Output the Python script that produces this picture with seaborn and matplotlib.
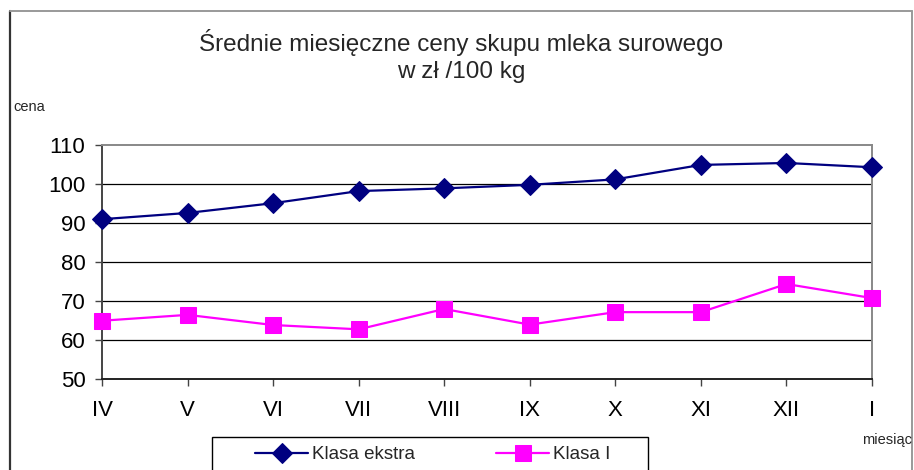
import matplotlib
matplotlib.use("Agg")
import matplotlib.pyplot as plt
import pandas as pd
import seaborn as sns
from matplotlib.lines import Line2D
from matplotlib.patches import Rectangle

# dane z wykresu
miesiace = ["IV", "V", "VI", "VII", "VIII", "IX", "X", "XI", "XII", "I"]
klasa_ekstra = [91.0, 92.6, 95.1, 98.2, 98.9, 99.8, 101.2, 104.9, 105.4, 104.3]
klasa_I = [65.0, 66.5, 63.9, 62.8, 68.0, 64.0, 67.2, 67.2, 74.4, 70.8]
y_ticks = [50, 60, 70, 80, 90, 100, 110]

W, H = 914, 470
sns.set_style("white")
plt.rcParams["font.family"] = ["Liberation Sans", "DejaVu Sans"]

fig = plt.figure(figsize=(W / 100, H / 100), dpi=100)
ax = fig.add_axes([102 / W, 1 - 379.3 / H, (872 - 102) / W, (379.3 - 145) / H])

df = pd.DataFrame({"miesiac": miesiace, "ekstra": klasa_ekstra, "I": klasa_I})

sns.lineplot(data=df, x="miesiac", y="ekstra", sort=False, ax=ax, color="#000080",
             marker="D", markersize=10, markeredgecolor="#000080", linewidth=1.6,
             label="Klasa ekstra", legend=False, clip_on=False, zorder=4)
sns.lineplot(data=df, x="miesiac", y="I", sort=False, ax=ax, color="#FF00FF",
             marker="s", markersize=11, markeredgecolor="#FF00FF", linewidth=1.6,
             label="Klasa I", legend=False, clip_on=False, zorder=3)

ax.set_xlim(0, len(miesiace) - 1)
ax.set_ylim(50, 110)
ax.set_yticks(y_ticks)
ax.set_xticks(range(len(miesiace)))
ax.set_xticklabels(miesiace)
ax.set_xlabel("")
ax.set_ylabel("")

# siatka
for v in y_ticks[1:-1]:
    ax.axhline(v, color="black", linewidth=0.9, zorder=1)

for side in ["top", "right"]:
    ax.spines[side].set_color("#888888")
    ax.spines[side].set_linewidth(1.4)
for side in ["left", "bottom"]:
    ax.spines[side].set_color("#444444")
    ax.spines[side].set_linewidth(1.4)
ax.spines["bottom"].set_color("#222222")

ax.tick_params(axis="both", direction="out", length=5, width=1, color="#444444",
               labelsize=16, colors="#444444", labelcolor="black",
               bottom=True, left=True)
ax.tick_params(axis="y", pad=7)
ax.tick_params(axis="x", pad=10)

# tytuł
fig.text(461 / W, 1 - 42 / H, "Średnie miesięczne ceny skupu mleka surowego",
         ha="center", va="center", fontsize=17.5)
fig.text(461 / W, 1 - 72 / H, "w zł /100 kg", ha="center", va="center", fontsize=17.5)
fig.text(13 / W, 1 - 107 / H, "cena", ha="left", va="center", fontsize=10.5)
fig.text(862 / W, 1 - 440 / H, "miesiąc", ha="left", va="center", fontsize=10.5)

# ramka wykresu
fig.add_artist(Line2D([10 / W, 10 / W], [1 - 11 / H, 0], transform=fig.transFigure,
                      color="#333333", linewidth=1.6))
fig.add_artist(Line2D([10 / W, 912 / W], [1 - 11 / H, 1 - 11 / H], transform=fig.transFigure,
                      color="#999999", linewidth=1.4))
fig.add_artist(Line2D([912 / W, 912 / W], [1 - 11 / H, 0], transform=fig.transFigure,
                      color="#999999", linewidth=1.4))

# legenda
fig.add_artist(Rectangle((212 / W, -0.05), (648 - 212) / W, 0.05 + (470 - 437) / H,
                         transform=fig.transFigure, fill=False, edgecolor="black",
                         linewidth=1.0))
handles, labels = ax.get_legend_handles_labels()
ax.legend(handles, labels, loc="upper left", bbox_to_anchor=(255 / W, 1 - 446 / H),
          bbox_transform=fig.transFigure, ncol=2, frameon=False, fontsize=13.5,
          borderpad=0, borderaxespad=0, handlelength=2.85, handletextpad=0.2,
          columnspacing=4.3, numpoints=1)

fig.savefig("out.png", dpi=100)
